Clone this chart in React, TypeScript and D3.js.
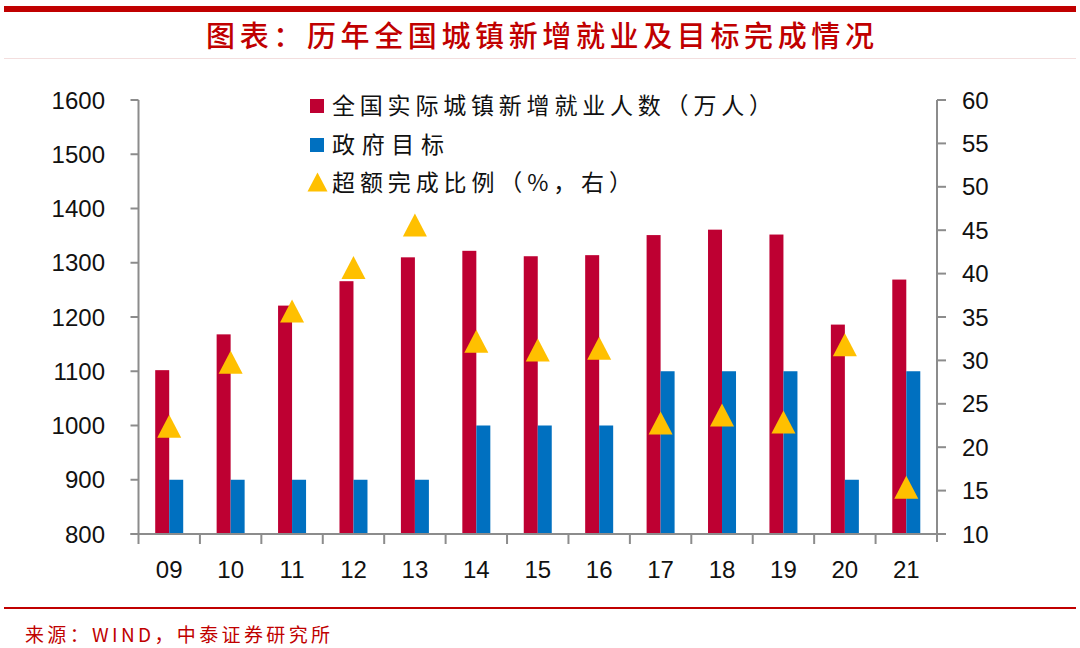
import * as d3 from 'd3';

const years = ['09', '10', '11', '12', '13', '14', '15', '16', '17', '18', '19', '20', '21'];
const actual = [1102, 1168, 1221, 1266, 1310, 1322, 1312, 1314, 1351, 1361, 1352, 1186, 1269];
const target = [900, 900, 900, 900, 900, 1000, 1000, 1000, 1100, 1100, 1100, 900, 1100];
const ratio = [22.4, 29.8, 35.7, 40.7, 45.6, 32.2, 31.2, 31.4, 22.8, 23.7, 22.9, 31.8, 15.4];
const leftTicks = [800, 900, 1000, 1100, 1200, 1300, 1400, 1500, 1600];
const rightTicks = [10, 15, 20, 25, 30, 35, 40, 45, 50, 55, 60];
const legendLabels = ['全国实际城镇新增就业人数（万人）', '政府目标', '超额完成比例（%，右）'];

const W = 1080;
const H = 648;
const plot = { left: 138.5, right: 937, top: 100, bottom: 534 };

const RED = '#BE0032';
const BLUE = '#0070C0';
const YELLOW = '#FFC000';
const AXIS = '#8C8C8C';
const CJK = '"Noto Sans CJK SC", sans-serif';
const NUM = '"Liberation Sans", Arial, sans-serif';

const App = () => {
  const x = d3.scaleBand<string>().domain(years).range([plot.left, plot.right]).padding(0);
  const yL = d3.scaleLinear().domain([800, 1600]).range([plot.bottom, plot.top]);
  const yR = d3.scaleLinear().domain([10, 60]).range([plot.bottom, plot.top]);
  const barW = 14;
  const tri = (cx: number, cy: number, w = 24, h = 23) =>
    `M${cx},${cy - h / 2}L${cx + w / 2},${cy + h / 2}L${cx - w / 2},${cy + h / 2}Z`;

  return (
    <svg width={W} height={H} style={{ display: 'block', position: 'absolute', left: 0, top: 0 }}>
      <rect width={W} height={H} fill="#fff" />
      {/* header */}
      <rect x={4} y={6} width={1072} height={6} fill="#C00000" />
      <text x={540} y={47} textAnchor="middle" fontFamily={CJK} fontSize={29} fontWeight={500}
        fill="#C00000" textLength={668} lengthAdjust="spacing">图表：历年全国城镇新增就业及目标完成情况</text>
      <line x1={4} x2={1076} y1={58.5} y2={58.5} stroke="#f3dede" strokeWidth={1} />

      {/* bars */}
      {years.map((yr, i) => {
        const c = (x(yr) ?? 0) + x.bandwidth() / 2;
        return (
          <g key={yr}>
            <rect x={c - barW} y={yL(actual[i])} width={barW} height={plot.bottom - yL(actual[i])} fill={RED} />
            <rect x={c} y={yL(target[i])} width={barW} height={plot.bottom - yL(target[i])} fill={BLUE} />
          </g>
        );
      })}
      {years.map((yr, i) => {
        const c = (x(yr) ?? 0) + x.bandwidth() / 2;
        return <path key={'t' + yr} d={tri(c, yR(ratio[i]))} fill={YELLOW} />;
      })}

      {/* left axis */}
      <line x1={plot.left} x2={plot.left} y1={plot.top} y2={plot.bottom} stroke={AXIS} strokeWidth={2} />
      {leftTicks.map((t) => (
        <g key={'l' + t}>
          <line x1={plot.left - 8} x2={plot.left} y1={yL(t)} y2={yL(t)} stroke={AXIS} strokeWidth={2} />
          <text x={105} y={yL(t)} dy="0.36em" textAnchor="end" fontFamily={NUM} fontSize={24} fill="#111">{t}</text>
        </g>
      ))}

      {/* right axis */}
      <line x1={plot.right} x2={plot.right} y1={plot.top} y2={plot.bottom + 8} stroke={AXIS} strokeWidth={2} />
      {rightTicks.map((t) => (
        <g key={'r' + t}>
          <line x1={plot.right} x2={plot.right + 9} y1={yR(t)} y2={yR(t)} stroke={AXIS} strokeWidth={2} />
          <text x={962} y={yR(t)} dy="0.36em" textAnchor="start" fontFamily={NUM} fontSize={24} fill="#111">{t}</text>
        </g>
      ))}

      {/* bottom axis */}
      <line x1={plot.left - 8} x2={plot.right} y1={plot.bottom} y2={plot.bottom} stroke={AXIS} strokeWidth={2} />
      {years.map((yr) => (
        <line key={'bt' + yr} x1={x(yr)} x2={x(yr)} y1={plot.bottom} y2={plot.bottom + 10} stroke={AXIS} strokeWidth={2} />
      ))}
      {years.map((yr) => (
        <text key={'bl' + yr} x={(x(yr) ?? 0) + x.bandwidth() / 2} y={569} dy="0.36em" textAnchor="middle"
          fontFamily={NUM} fontSize={24} fill="#111">{yr}</text>
      ))}

      {/* legend */}
      <rect x={310} y={99} width={14} height={14} fill={RED} />
      <rect x={310} y={138} width={14} height={14} fill={BLUE} />
      <path d={tri(317.5, 182, 20, 19)} fill={YELLOW} />
      {legendLabels.map((l, i) => (
        <text key={l} x={332} y={[106, 145, 183][i]} dy="0.36em" fontFamily={CJK} fontSize={23} fill="#111"
          textLength={[440, 112, 300][i]} lengthAdjust="spacing">{l}</text>
      ))}

      {/* footer */}
      <line x1={4} x2={1076} y1={608} y2={608} stroke="#C00000" strokeWidth={2} />
      <text x={25} y={635} dy="0.36em" fontFamily={CJK} fontSize={19} fill="#C00000"
        textLength={305} lengthAdjust="spacing">来源：WIND，中泰证券研究所</text>
    </svg>
  );
};

export default App;
